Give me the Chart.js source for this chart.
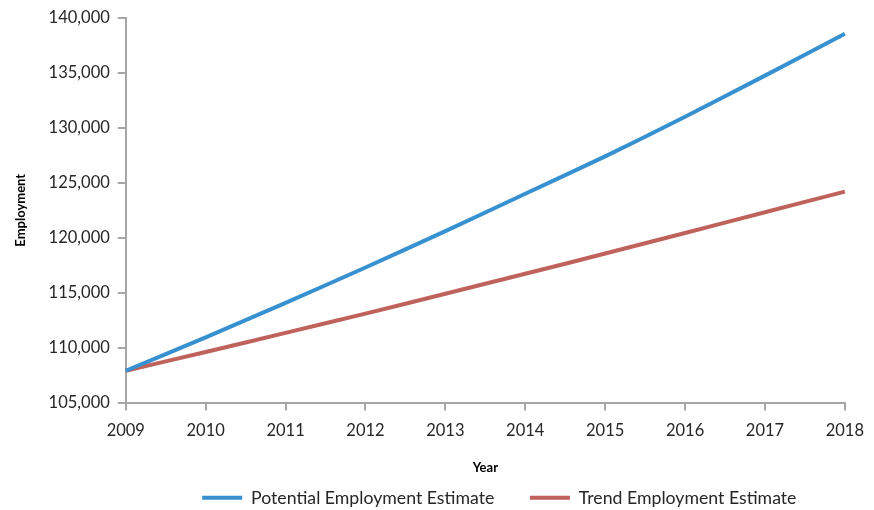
<!DOCTYPE html>
<html>
<head>
<meta charset="utf-8">
<script src="https://cdn.jsdelivr.net/npm/chart.js@4"></script>
<style>
  html, body { margin: 0; padding: 0; background: #fff; }
  #wrap { width: 874px; height: 510px; }
</style>
</head>
<body>
<div id="wrap"><canvas id="employment-chart"></canvas></div>
<script>
var years = ['2009', '2010', '2011', '2012', '2013', '2014', '2015', '2016', '2017', '2018'];
var potentialEmployment = [107900, 110940, 114070, 117290, 120600, 124000, 127400, 131000, 134750, 138550];
var trendEmployment = [107900, 109600, 111340, 113100, 114900, 116720, 118560, 120430, 122320, 124200];

var axisColor = '#a6a6a6';
var textColor = '#262626';
var baseFont = 'Lato, "Open Sans", sans-serif';

// nudge the legend a little to the right, like the original
var legendShift = {
  id: 'legendShift',
  afterLayout: function (chart) {
    chart.legend.left += 14;
    chart.legend.right += 14;
  }
};

var ctx = document.getElementById('employment-chart');

var employmentChart = new Chart(ctx, {
  type: 'line',
  data: {
    labels: years,
    datasets: [
      {
        label: 'Potential Employment Estimate',
        data: potentialEmployment,
        borderColor: '#3791d0',
        backgroundColor: '#3791d0',
        borderWidth: 4,
        pointRadius: 0,
        tension: 0.2
      },
      {
        label: 'Trend Employment Estimate',
        data: trendEmployment,
        borderColor: '#c0625c',
        backgroundColor: '#c0625c',
        borderWidth: 4,
        pointRadius: 0,
        tension: 0.2
      }
    ]
  },
  plugins: [legendShift],
  options: {
    responsive: true,
    maintainAspectRatio: false,
    animation: false,
    layout: {
      padding: { left: 5, right: 26, top: 15, bottom: 0 }
    },
    plugins: {
      tooltip: { enabled: false },
      legend: {
        position: 'bottom',
        fullSize: false,
        maxHeight: 34,
        labels: {
          usePointStyle: true,
          pointStyle: 'line',
          pointStyleWidth: 40,
          padding: 13,
          color: textColor,
          font: { family: baseFont, size: 17.7 },
          generateLabels: function (chart) {
            var items = Chart.defaults.plugins.legend.labels.generateLabels(chart);
            // extra room after the first entry
            items[0].text = items[0].text + '     ';
            return items;
          }
        }
      }
    },
    scales: {
      x: {
        offset: false,
        border: { color: axisColor, width: 2 },
        grid: { drawOnChartArea: false, color: axisColor, tickLength: 8, lineWidth: 2 },
        ticks: {
          color: textColor,
          padding: 10,
          maxRotation: 0,
          font: { family: baseFont, size: 16.5 }
        },
        title: {
          display: true,
          text: 'Year',
          color: '#000',
          padding: { top: 10, bottom: 0 },
          font: { family: baseFont, size: 13, weight: 'bold' }
        }
      },
      y: {
        min: 105000,
        max: 140000,
        border: { color: axisColor, width: 2 },
        grid: { drawOnChartArea: false, color: axisColor, tickLength: 8, lineWidth: 2 },
        ticks: {
          stepSize: 5000,
          color: textColor,
          padding: 8,
          font: { family: baseFont, size: 16.5 },
          callback: function (value) {
            return value.toLocaleString('en-US');
          }
        },
        title: {
          display: true,
          text: 'Employment',
          color: '#000',
          padding: { top: 8, bottom: 12 },
          font: { family: baseFont, size: 13, weight: 'bold' }
        }
      }
    }
  }
});
</script>
</body>
</html>
